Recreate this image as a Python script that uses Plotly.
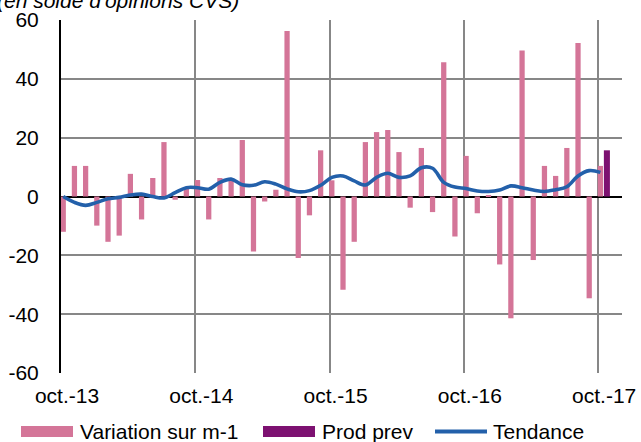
import numpy as np
import pandas as pd
import plotly.graph_objects as go

# ---- data ----
months = [d.strftime("%Y-%m") for d in pd.date_range("2013-10-01", "2017-10-01", freq="MS")]
variation = [-12.0, 10.4, 10.4, -9.9, -15.4, -13.3, 7.7, -7.8, 6.3, 18.5,
             -1.1, 2.7, 5.6, -7.8, 6.3, 5.5, 19.2, -18.7, -1.7, 2.3,
             56.3, -20.9, -6.4, 15.7, 5.5, -31.7, -15.4, 18.5, 21.9, 22.6,
             15.1, -3.8, 16.5, -5.3, 45.6, -13.6, 13.8, -5.7, 0.3, -23.1,
             -41.4, 49.6, -21.6, 10.4, 7.0, 16.5, 52.2, -34.6, 10.4]
tendance = [0.0, -2.0, -3.0, -2.0, -0.8, -0.3, 0.5, 0.8, 0.0, -0.5,
            1.3, 3.0, 3.0, 2.5, 4.8, 5.9, 4.0, 3.8, 5.0, 4.2,
            2.6, 1.6, 2.0, 3.8, 6.5, 7.0, 5.3, 3.9, 6.5, 7.9,
            6.5, 7.0, 9.8, 9.6, 4.8, 3.2, 2.7, 1.9, 1.7, 2.2,
            3.6, 3.0, 2.2, 1.7, 2.3, 3.3, 7.0, 8.8, 8.2]
prev_months = ["2017-11"]
prod_prev = [15.7]
tick_months = ["2013-10", "2014-10", "2015-10", "2016-10", "2017-10"]
tick_labels = ["oct.-13", "oct.-14", "oct.-15", "oct.-16", "oct.-17"]
y_ticks = [60, 40, 20, 0, -20, -40, -60]
y_labels = ["60", "40", "20", "0", "-20", "-40", "-60"]

PINK = "#D47598"
PURPLE = "#7D1171"
BLUE = "#2360AA"
GRID = "#878787"
FONT = "Liberation Sans, Arial, sans-serif"

all_months = months + prev_months
pos = {m: i for i, m in enumerate(all_months)}
x_var = [pos[m] for m in months]
x_prev = [pos[m] for m in prev_months]
x_ticks = [pos[m] for m in tick_months]

W, H = 641, 442
L, R, T, B = 61, 19, 20, 69
pw, ph = W - L - R, H - T - B


def px(x):
    return (x - L) / pw


def py(y):
    return (H - B - y) / ph


fig = go.Figure()
fig.add_trace(go.Bar(x=x_var, y=variation, width=0.47, offset=-0.035,
                     marker=dict(color=PINK, line=dict(width=0)),
                     name="Variation sur m-1"))
fig.add_trace(go.Bar(x=x_prev, y=prod_prev, width=0.54, offset=-0.49,
                     marker=dict(color=PURPLE, line=dict(width=0)),
                     name="Prod prev"))
fig.add_trace(go.Scatter(x=[v + 0.2 for v in x_var], y=tendance, mode="lines",
                         line=dict(color=BLUE, width=3.6, shape="spline", smoothing=1.0),
                         name="Tendance"))

fig.update_layout(
    width=W, height=H,
    margin=dict(l=L, r=R, t=T, b=B, pad=0, autoexpand=False),
    plot_bgcolor="white", paper_bgcolor="white",
    showlegend=False, barmode="overlay",
    font=dict(family=FONT, size=21, color="black"),
)
fig.update_xaxes(range=[0, 50.13], tickvals=x_ticks, ticktext=tick_labels,
                 showgrid=True, gridcolor=GRID, gridwidth=1.5, automargin=False,
                 zeroline=False, showline=False, ticks="",
                 ticklabelshift=6, ticklabelstandoff=8)
fig.update_yaxes(range=[-60, 60], tickvals=y_ticks, ticktext=y_labels,
                 showgrid=True, gridcolor=GRID, gridwidth=1.5, automargin=False,
                 zeroline=True, zerolinecolor="black", zerolinewidth=1.8,
                 showline=True, linecolor="black", linewidth=2, ticks="",
                 ticklabelstandoff=16)

# title (partially cut at top, as in the original)
fig.add_annotation(text="<i>(en solde d'opinions CVS)</i>", xref="paper", yref="paper",
                   x=px(-5), y=py(0), xanchor="left", yanchor="middle",
                   showarrow=False, font=dict(family=FONT, size=21, color="black"))

# legend
legend_items = [("rect", PINK, 21, 73, "Variation sur m-1", 78),
                ("rect", PURPLE, 263, 315, "Prod prev", 320),
                ("line", BLUE, 435, 487, "Tendance", 491)]
ly = 431.5
for kind, col, x0, x1, label, tx in legend_items:
    if kind == "rect":
        fig.add_shape(type="rect", xref="paper", yref="paper",
                      x0=px(x0), x1=px(x1), y0=py(ly - 5.5), y1=py(ly + 5.5),
                      fillcolor=col, line=dict(width=0))
    else:
        fig.add_shape(type="line", xref="paper", yref="paper",
                      x0=px(x0), x1=px(x1), y0=py(ly), y1=py(ly),
                      line=dict(color=col, width=4))
    fig.add_annotation(text=label, xref="paper", yref="paper",
                       x=px(tx), y=py(ly), xanchor="left", yanchor="middle",
                       showarrow=False, font=dict(family=FONT, size=21, color="black"))

fig.write_html("out.html", config={"displayModeBar": False},
               post_script="document.body.style.margin='0';document.body.style.overflow='hidden';")
